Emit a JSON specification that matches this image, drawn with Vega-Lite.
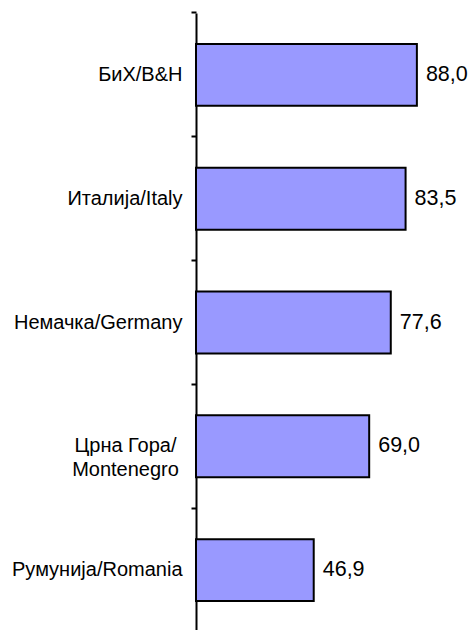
{
  "$schema": "https://vega.github.io/schema/vega-lite/v6.json",
  "width": 251,
  "height": 619,
  "autosize": {"type": "none"},
  "padding": {"left": 196, "top": 13, "right": 27, "bottom": 0},
  "background": "white",
  "config": {
    "view": {"stroke": null},
    "font": "Liberation Sans",
    "locale": {"number": {"decimal": ",", "thousands": ".", "grouping": [3], "currency": ["", " €"]}}
  },
  "data": {
    "values": [
      {"country": "БиХ/B&H", "value": 88.0},
      {"country": "Италија/Italy", "value": 83.5},
      {"country": "Немачка/Germany", "value": 77.6},
      {"country": "Црна Гора/|Montenegro", "value": 69.0},
      {"country": "Румунија/Romania", "value": 46.9}
    ]
  },
  "encoding": {
    "y": {
      "field": "country",
      "type": "nominal",
      "sort": null,
      "scale": {"paddingInner": 0.5, "paddingOuter": 0.25},
      "axis": {
        "title": null,
        "labelExpr": "split(datum.label, '|')",
        "labelFont": "Liberation Sans",
        "labelFontSize": 20,
        "labelColor": "black",
        "labelLineHeight": 24,
        "labelAlign": {"condition": {"test": "indexof(datum.value, '|') >= 0", "value": "center"}, "value": "right"},
        "labelPadding": {"condition": {"test": "indexof(datum.value, '|') >= 0", "value": 66}, "value": 9},
        "tickSize": 5,
        "tickWidth": 2,
        "tickColor": "black",
        "bandPosition": -0.5,
        "domainColor": "black",
        "domainWidth": 2,
        "labelLimit": 400
      }
    },
    "x": {
      "field": "value",
      "type": "quantitative",
      "scale": {"domain": [0, 100], "nice": false},
      "axis": null
    }
  },
  "layer": [
    {
      "mark": {"type": "bar", "fill": "#9999FF", "stroke": "black", "strokeWidth": 2}
    },
    {
      "mark": {"type": "text", "align": "left", "baseline": "middle", "dx": 9, "fontSize": 21.5, "color": "black"},
      "encoding": {
        "text": {"field": "value", "type": "quantitative", "format": ".1f"}
      }
    }
  ]
}
